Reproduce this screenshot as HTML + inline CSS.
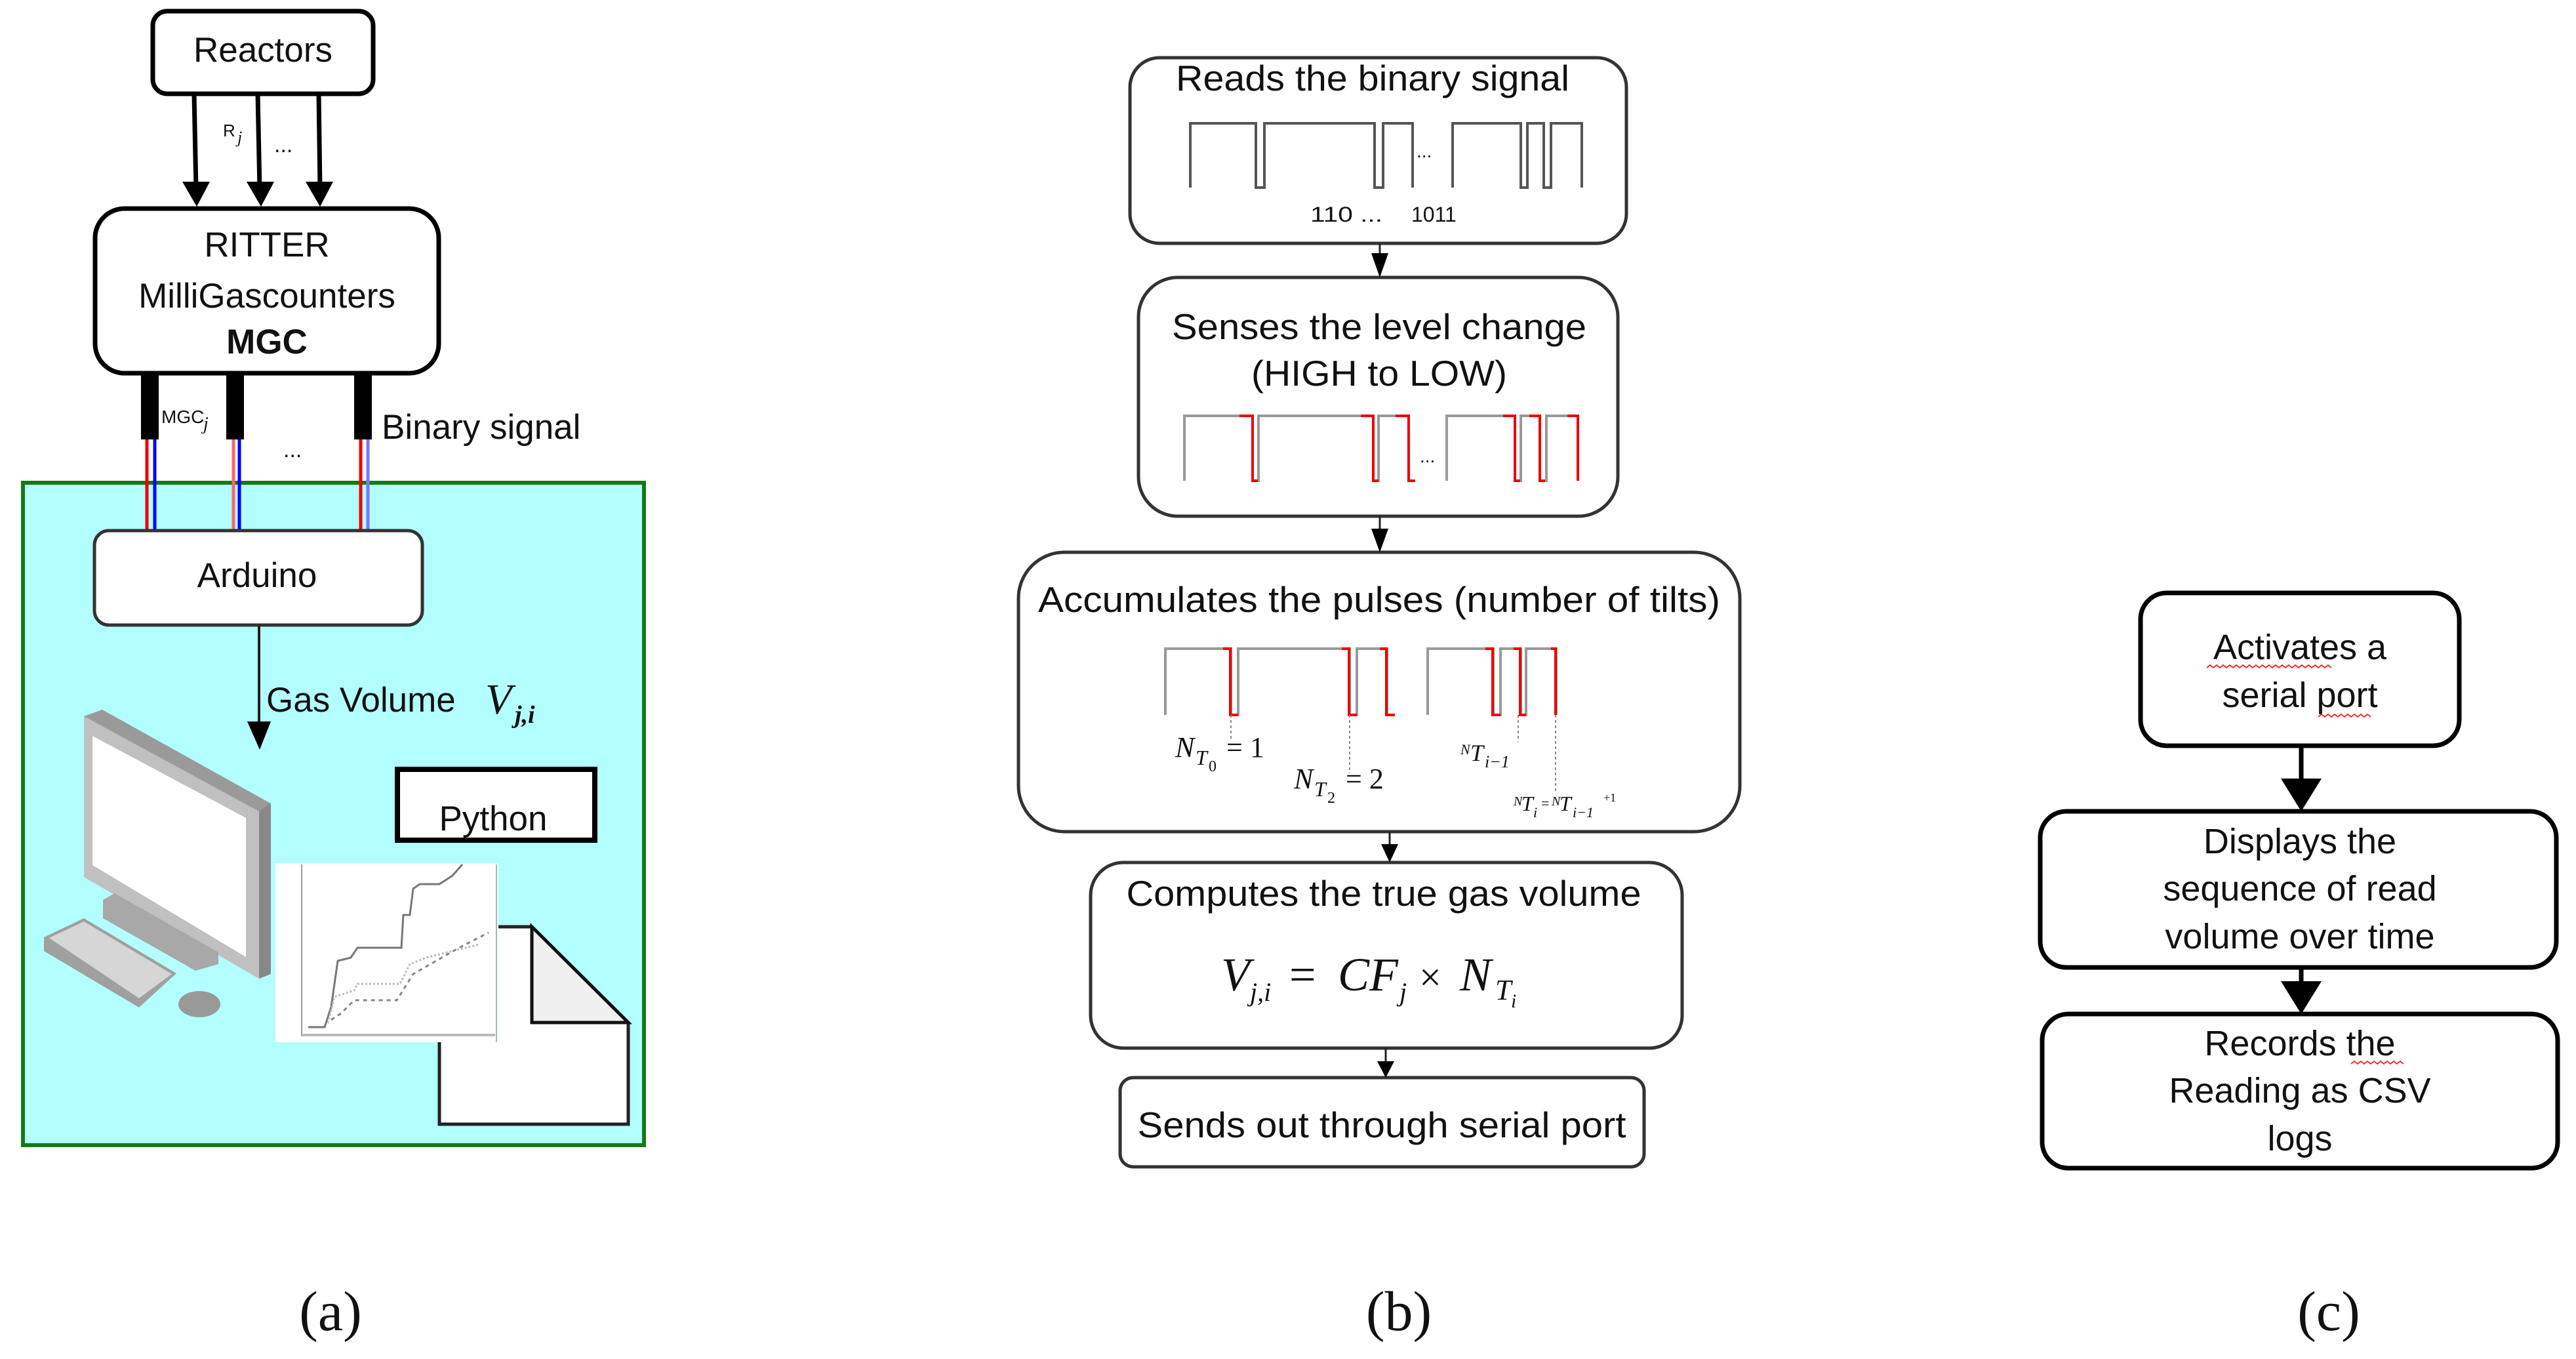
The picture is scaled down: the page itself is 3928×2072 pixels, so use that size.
<!DOCTYPE html>
<html><head><meta charset="utf-8"><style>
html,body{margin:0;padding:0;background:#fff;}
svg{display:block;}
text{font-family:"Liberation Sans",sans-serif;fill:#111;}
.s{font-family:"Liberation Serif",serif;}
</style></head><body>
<svg width="3928" height="2072" viewBox="0 0 3928 2072" xmlns="http://www.w3.org/2000/svg">

<!-- ===== Panel (a) ===== -->
<rect x="35" y="736" width="947" height="1010" fill="#b3ffff" stroke="#157a15" stroke-width="6"/>
<rect x="233" y="17" width="336" height="126" rx="22" fill="#fff" stroke="#000" stroke-width="7"/>
<text x="401" y="94" font-size="53" text-anchor="middle">Reactors</text>
<g stroke="#000" stroke-width="7">
<line x1="296" y1="143" x2="299" y2="290"/><line x1="393" y1="143" x2="396" y2="290"/><line x1="486" y1="143" x2="488" y2="290"/>
</g>
<g fill="#000">
<path d="M278,277 L320,277 L300,315 z"/><path d="M376,277 L418,277 L398,315 z"/><path d="M466,277 L508,277 L488,315 z"/>
</g>
<text x="340" y="208" font-size="26">R</text><text x="362" y="218" font-size="26" font-style="italic" class="s">j</text>
<text x="418" y="232" font-size="34">...</text>
<rect x="145" y="318" width="524" height="251" rx="45" fill="#fff" stroke="#000" stroke-width="7"/>
<text x="407" y="391" font-size="53" text-anchor="middle">RITTER</text>
<text x="407" y="469" font-size="53" text-anchor="middle">MilliGascounters</text>
<text x="407" y="539" font-size="53" text-anchor="middle" font-weight="bold">MGC</text>
<g fill="#000"><rect x="215" y="572" width="27" height="98"/><rect x="345" y="572" width="27" height="98"/><rect x="540" y="572" width="27" height="98"/></g>
<g stroke-width="5">
<line x1="224" y1="670" x2="224" y2="810" stroke="#e00"/><line x1="236" y1="670" x2="236" y2="810" stroke="#00f"/>
<line x1="356" y1="670" x2="356" y2="810" stroke="#f66"/><line x1="365" y1="670" x2="365" y2="810" stroke="#00f"/>
<line x1="550" y1="670" x2="550" y2="810" stroke="#e00"/><line x1="561" y1="670" x2="561" y2="810" stroke="#77f"/>
</g>
<text x="246" y="645" font-size="28">MGC</text><text x="310" y="655" font-size="28" font-style="italic" class="s">j</text>
<text x="432" y="697" font-size="34">...</text>
<text x="582" y="669" font-size="53">Binary signal</text>
<rect x="144" y="809" width="500" height="144" rx="22" fill="#fff" stroke="#333" stroke-width="5"/>
<text x="392" y="895" font-size="53" text-anchor="middle">Arduino</text>
<line x1="395" y1="953" x2="395" y2="1110" stroke="#222" stroke-width="4"/>
<path d="M377,1100 L413,1100 L396,1143 z" fill="#000"/>
<text x="406" y="1085" font-size="53">Gas Volume</text>
<text x="740" y="1088" font-size="66" class="s" font-style="italic">V</text>
<text x="785" y="1102" font-size="38" class="s" font-style="italic" font-weight="bold">j,i</text>
<!-- computer -->
<polygon points="128,1092 156,1082 413,1225 413,1485 395,1492 128,1337" fill="#9a9a9a"/>
<polygon points="128,1092 395,1237 395,1492 128,1337" fill="#c0c0c0"/>
<polygon points="395,1237 413,1225 413,1485 395,1492" fill="#888"/>
<polygon points="141,1122 375,1247 375,1459 141,1319" fill="#fff"/>
<polygon points="157,1372 175,1362 333,1452 333,1470 298,1480 157,1400" fill="#a8a8a8"/>
<polygon points="67,1429 128,1400 269,1484 212,1536 67,1450" fill="#a0a0a0"/>
<polygon points="75,1430 128,1405 262,1485 212,1522" fill="#d6d6d6"/>
<ellipse cx="304" cy="1531" rx="32" ry="20" fill="#999"/>
<polygon points="670,1413 811,1413 958,1559 958,1714 670,1714" fill="#fff" stroke="#222" stroke-width="5"/>
<polygon points="811,1413 958,1559 811,1559" fill="#f0f0f0" stroke="#111" stroke-width="5"/>
<rect x="420" y="1316" width="340" height="273" fill="#fff"/>
<line x1="460" y1="1318" x2="460" y2="1580" stroke="#999" stroke-width="2"/>
<line x1="460" y1="1578" x2="755" y2="1578" stroke="#bbb" stroke-width="4"/>
<line x1="757" y1="1318" x2="757" y2="1589" stroke="#9bb" stroke-width="2"/>
<polyline points="470,1566 495,1566 505,1535 515,1465 535,1460 545,1445 612,1445 615,1395 625,1395 630,1355 640,1348 670,1348 690,1335 705,1318" fill="none" stroke="#777" stroke-width="3"/>
<polyline points="500,1560 510,1520 540,1510 545,1500 610,1500 625,1470 650,1460 730,1440" fill="none" stroke="#bbb" stroke-width="3" stroke-dasharray="3,3"/>
<polyline points="505,1555 520,1545 540,1525 605,1525 630,1485 700,1445 745,1422" fill="none" stroke="#888" stroke-width="3" stroke-dasharray="6,6"/>
<rect x="606" y="1173" width="301" height="108" fill="#fff" stroke="#000" stroke-width="8"/>
<text x="752" y="1266" font-size="53" text-anchor="middle">Python</text>

<!-- ===== Panel (b) ===== -->
<g fill="#fff" stroke="#333" stroke-width="5">
<rect x="1723" y="88" width="757" height="283" rx="45"/>
<rect x="1736" y="423" width="731" height="364" rx="60"/>
<rect x="1553" y="842" width="1100" height="426" rx="70"/>
<rect x="1663" y="1315" width="902" height="283" rx="50"/>
<rect x="1708" y="1643" width="799" height="136" rx="20"/>
</g>
<g stroke="#222" stroke-width="3">
<line x1="2104" y1="371" x2="2104" y2="410"/><line x1="2104" y1="787" x2="2104" y2="828"/>
<line x1="2119" y1="1268" x2="2119" y2="1302"/><line x1="2113" y1="1598" x2="2113" y2="1630"/>
</g>
<g fill="#000">
<path d="M2091,386 L2117,386 L2104,423 z"/><path d="M2091,806 L2117,806 L2104,842 z"/>
<path d="M2106,1287 L2132,1287 L2119,1315 z"/><path d="M2100,1618 L2126,1618 L2113,1643 z"/>
</g>
<text x="2093" y="138" font-size="55" text-anchor="middle" textLength="600" lengthAdjust="spacingAndGlyphs">Reads the binary signal</text>
<polyline points="1815,286 1815,188 1915,188 1915,286 1928,286 1928,188 2096,188 2096,286 2109,286 2109,188 2154,188 2154,286" fill="none" stroke="#555" stroke-width="4"/>
<polyline points="2215,286 2215,188 2319,188 2319,286 2329,286 2329,188 2354,188 2354,286 2365,286 2365,188 2412,188 2412,286" fill="none" stroke="#555" stroke-width="4"/>
<text x="2160" y="240" font-size="28">...</text>
<text x="1998" y="338" font-size="32" textLength="110" lengthAdjust="spacingAndGlyphs">110 ...</text>
<text x="2152" y="338" font-size="32">1011</text>

<text x="2103" y="517" font-size="55" text-anchor="middle" textLength="632" lengthAdjust="spacingAndGlyphs">Senses the level change</text>
<text x="2103" y="588" font-size="55" text-anchor="middle" textLength="390" lengthAdjust="spacingAndGlyphs">(HIGH to LOW)</text>
<polyline points="1806,733 1806,634 1910,634 1910,733 1919,733 1919,634 2094,634 2094,733 2102,733 2102,634 2148,634 2148,733 2158,733" fill="none" stroke="#999" stroke-width="4"/>
<polyline points="2206,733 2206,634 2310,634 2310,733 2319,733 2319,634 2348,634 2348,733 2358,733 2358,634 2406,634 2406,733" fill="none" stroke="#999" stroke-width="4"/>
<g fill="none" stroke="#e00" stroke-width="4">
<polyline points="1890,634 1910,634 1910,733 1918,733"/><polyline points="2075,634 2094,634 2094,733 2102,733"/><polyline points="2128,634 2148,634 2148,733 2158,733"/>
<polyline points="2292,634 2310,634 2310,733 2318,733"/><polyline points="2332,634 2348,634 2348,733 2356,733"/><polyline points="2390,634 2406,634 2406,733"/>
</g>
<text x="2165" y="705" font-size="28">...</text>

<text x="2103" y="933" font-size="55" text-anchor="middle" textLength="1040" lengthAdjust="spacingAndGlyphs">Accumulates the pulses (number of tilts)</text>
<polyline points="1777,1090 1777,989 1877,989 1877,1090 1888,1090 1888,989 2058,989 2058,1090 2069,1090 2069,989 2115,989 2115,1090 2127,1090" fill="none" stroke="#999" stroke-width="4"/>
<polyline points="2177,1090 2177,989 2277,989 2277,1090 2288,1090 2288,989 2319,989 2319,1090 2327,1090 2327,989 2373,989 2373,1090" fill="none" stroke="#999" stroke-width="4"/>
<g fill="none" stroke="#e00" stroke-width="4">
<polyline points="1865,989 1876,989 1876,1090 1888,1090"/><polyline points="2046,989 2057,989 2057,1090 2069,1090"/><polyline points="2104,989 2114,989 2114,1090 2127,1090"/>
<polyline points="2265,989 2276,989 2276,1090 2288,1090"/><polyline points="2308,989 2318,989 2318,1090 2327,1090"/><polyline points="2365,989 2372,989 2372,1090"/>
</g>
<g stroke="#888" stroke-width="2" stroke-dasharray="4,4">
<line x1="1877" y1="1090" x2="1877" y2="1128"/><line x1="2058" y1="1090" x2="2058" y2="1179"/>
<line x1="2315" y1="1090" x2="2315" y2="1131"/><line x1="2372" y1="1090" x2="2372" y2="1208"/>
</g>
<text x="1792" y="1154" font-size="44" font-style="italic" fill="#777" class="s">N</text><text x="1823" y="1166" font-size="32" font-style="italic" fill="#777" class="s">T</text><text x="1843" y="1176" font-size="24" fill="#777" class="s">0</text><text x="1870" y="1154" font-size="44" fill="#777" class="s">= 1</text>
<text x="1973" y="1202" font-size="44" font-style="italic" fill="#777" class="s">N</text><text x="2004" y="1214" font-size="32" font-style="italic" fill="#777" class="s">T</text><text x="2024" y="1224" font-size="24" fill="#777" class="s">2</text><text x="2052" y="1202" font-size="44" fill="#777" class="s">= 2</text>
<text x="2227" y="1150" font-size="22" font-style="italic" fill="#777" class="s">N</text><text x="2242" y="1160" font-size="36" font-style="italic" fill="#777" class="s">T</text><text x="2264" y="1170" font-size="26" font-style="italic" fill="#777" class="s">i−1</text>
<text x="2308" y="1228" font-size="20" font-style="italic" fill="#999" class="s">N</text><text x="2320" y="1236" font-size="32" font-style="italic" fill="#999" class="s">T</text><text x="2338" y="1246" font-size="22" font-style="italic" fill="#999" class="s">i</text><text x="2350" y="1232" font-size="22" fill="#999" class="s">=</text><text x="2366" y="1228" font-size="20" font-style="italic" fill="#999" class="s">N</text><text x="2378" y="1236" font-size="32" font-style="italic" fill="#999" class="s">T</text><text x="2398" y="1246" font-size="22" font-style="italic" fill="#999" class="s">i−1</text><text x="2445" y="1222" font-size="18" fill="#999" class="s">+1</text>
<text x="2110" y="1381" font-size="55" text-anchor="middle" textLength="785" lengthAdjust="spacingAndGlyphs">Computes the true gas volume</text>
<text x="1862" y="1510" font-size="72" font-style="italic" class="s">V</text><text x="1906" y="1526" font-size="40" font-style="italic" class="s">j,i</text>
<text x="1966" y="1510" font-size="72" class="s">=</text>
<text x="2040" y="1510" font-size="72" font-style="italic" class="s">CF</text><text x="2134" y="1526" font-size="40" font-style="italic" class="s">j</text>
<text x="2164" y="1510" font-size="60" class="s">×</text>
<text x="2226" y="1510" font-size="72" font-style="italic" class="s">N</text><text x="2280" y="1524" font-size="44" font-style="italic" class="s">T</text><text x="2304" y="1536" font-size="30" font-style="italic" class="s">i</text>
<text x="2107" y="1734" font-size="55" text-anchor="middle" textLength="745" lengthAdjust="spacingAndGlyphs">Sends out through serial port</text>

<!-- ===== Panel (c) ===== -->
<g fill="#fff" stroke="#000" stroke-width="7">
<rect x="3264" y="904" width="486" height="233" rx="40"/>
<rect x="3111" y="1237" width="787" height="238" rx="40"/>
<rect x="3114" y="1546" width="786" height="235" rx="40"/>
</g>
<line x1="3509" y1="1137" x2="3509" y2="1200" stroke="#000" stroke-width="7"/>
<path d="M3478,1187 L3540,1187 L3509,1237 z" fill="#000"/>
<line x1="3509" y1="1475" x2="3509" y2="1500" stroke="#000" stroke-width="7"/>
<path d="M3478,1496 L3540,1496 L3509,1546 z" fill="#000"/>
<g font-size="54" text-anchor="middle">
<text x="3507" y="1005">Activates a</text><text x="3507" y="1078">serial port</text>
<text x="3507" y="1301">Displays the</text><text x="3507" y="1373">sequence of read</text><text x="3507" y="1446">volume over time</text>
<text x="3507" y="1609">Records the</text><text x="3507" y="1681">Reading as CSV</text><text x="3507" y="1754">logs</text>
</g>
<g fill="none" stroke="#e33" stroke-width="2">
<polyline points="3365,1018 3370,1014 3375,1018 3380,1014 3385,1018 3390,1014 3395,1018 3400,1014 3405,1018 3410,1014 3415,1018 3420,1014 3425,1018 3430,1014 3435,1018 3440,1014 3445,1018 3450,1014 3455,1018 3460,1014 3465,1018 3470,1014 3475,1018 3480,1014 3485,1018 3490,1014 3495,1018 3500,1014 3505,1018 3510,1014 3515,1018 3520,1014 3525,1018 3530,1014 3535,1018 3540,1014 3545,1018 3550,1014 3555,1018"/>
<polyline points="3535,1093 3540,1089 3545,1093 3550,1089 3555,1093 3560,1089 3565,1093 3570,1089 3575,1093 3580,1089 3585,1093 3590,1089 3595,1093 3600,1089 3605,1093 3610,1089 3615,1093"/>
<polyline points="3585,1622 3590,1618 3595,1622 3600,1618 3605,1622 3610,1618 3615,1622 3620,1618 3625,1622 3630,1618 3635,1622 3640,1618 3645,1622 3650,1618 3655,1622 3660,1618 3665,1622"/>
</g>

<!-- captions -->
<text x="504" y="2028" font-size="86" text-anchor="middle" class="s">(a)</text>
<text x="2133" y="2028" font-size="86" text-anchor="middle" class="s">(b)</text>
<text x="3551" y="2028" font-size="86" text-anchor="middle" class="s">(c)</text>
</svg>
</body></html>
